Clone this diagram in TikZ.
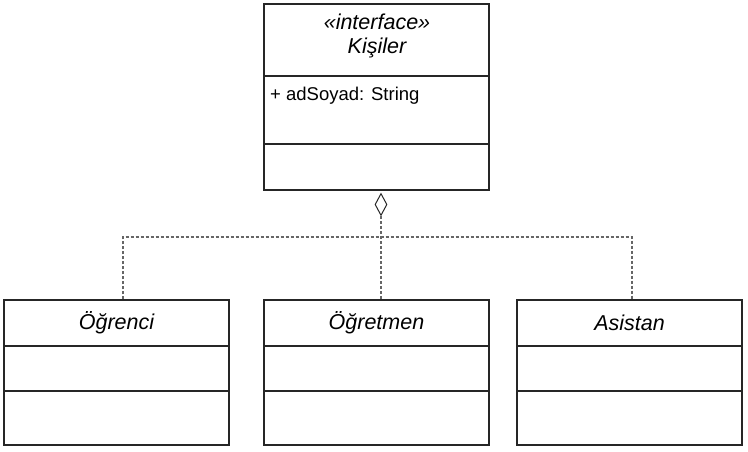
\documentclass[tikz,border=0pt]{standalone}
\usepackage{fontspec}
\setmainfont{Liberation Sans}
\usetikzlibrary{shapes.geometric}
\begin{document}
\begin{tikzpicture}[x=1pt,y=-1pt,
  box/.style={draw=black!85, line width=1.2pt, minimum width=225pt, inner sep=0pt, fill=white},
  divider/.style={draw=black!85, line width=1.1pt},
  title/.style={font=\fontsize{21.5}{24}\selectfont\itshape, inner sep=0pt},
  attr/.style={font=\fontsize{18.5}{22}\selectfont, inner sep=0pt, anchor=west},
  dep/.style={draw=black!60, line width=1.3pt, dash pattern=on 3pt off 2pt},
  agg/.style={diamond, draw=black!85, line width=1pt, fill=white, minimum width=12pt, minimum height=22pt, inner sep=0pt, aspect=0.55}]
\useasboundingbox (0,0) rectangle (748,452);
% top interface box
\node[box, minimum height=186pt] (kis) at (376.5,97) {};
\draw[divider] (kis.west |- 0,76) -- (kis.east |- 0,76);
\draw[divider] (kis.west |- 0,144) -- (kis.east |- 0,144);
\node[title] (ster) at (377,22) {«interface»};
\node[title] (kisn) at (377,48) {Kişiler};
\node[attr] (ad) at (270,96) {+ adSoyad: String};
% bottom boxes
\node[box, minimum height=145pt] (ogr) at (116.5,372.5) {};
\node[box, minimum height=145pt] (ogt) at (376.5,372.5) {};
\node[box, minimum height=145pt] (asi) at (629.5,372.5) {};
\foreach \b in {ogr,ogt,asi}{
  \draw[divider] (\b.west |- 0,346) -- (\b.east |- 0,346);
  \draw[divider] (\b.west |- 0,391) -- (\b.east |- 0,391);
}
\node[title] (ogrn) at (116.5,323) {Öğrenci};
\node[title] (ogtn) at (376.5,323) {Öğretmen};
\node[title] (asin) at (629.5,323) {Asistan};
% aggregation diamond and dashed connectors
\node[agg] (dia) at (381,204.5) {};
\coordinate (jl) at (123,237);
\coordinate (jr) at (632,237);
\draw[dep] (dia.south) -- (dia.south |- ogt.north);
\draw[dep] (jl |- ogr.north) -- (jl) -- (jr) -- (jr |- asi.north);
\end{tikzpicture}
\end{document}
